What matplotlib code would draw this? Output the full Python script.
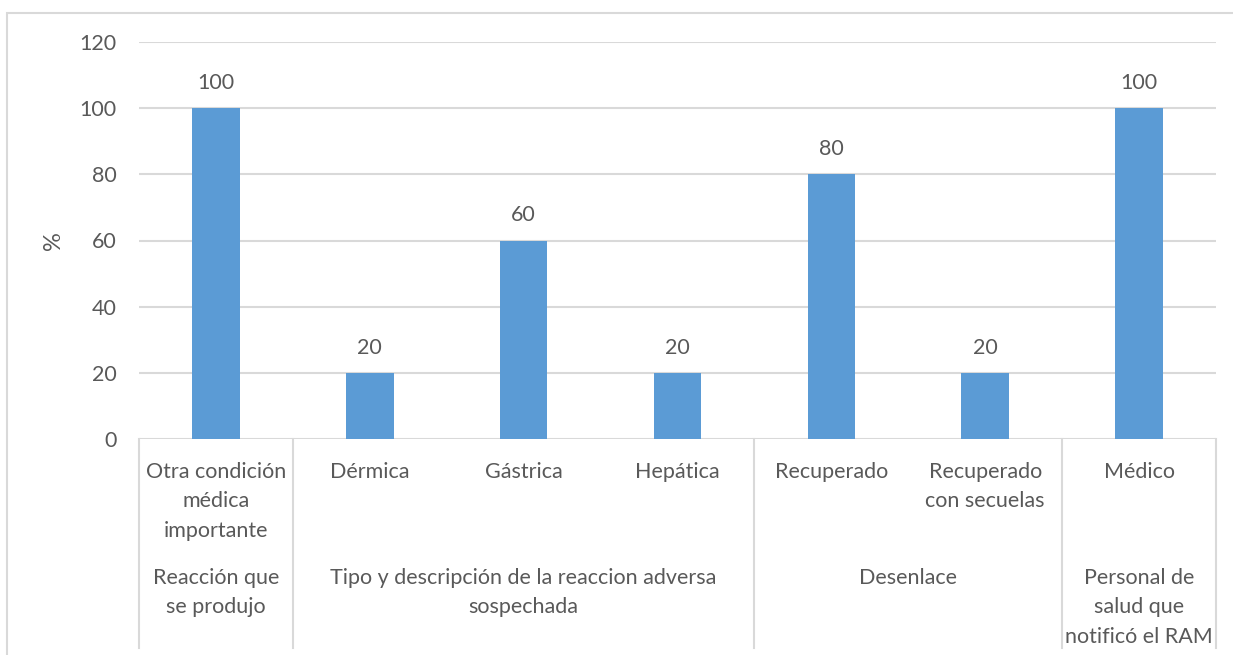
import matplotlib.pyplot as plt
from matplotlib.patches import Rectangle

plt.rcParams['font.family'] = ['Lato', 'DejaVu Sans']

# --- data
categorias = ['Otra condición\nmédica\nimportante', 'Dérmica', 'Gástrica', 'Hepática',
              'Recuperado', 'Recuperado\ncon secuelas', 'Médico']
valores = [100, 20, 60, 20, 80, 20, 100]

grupos = ['Reacción que\nse produjo',
          'Tipo y descripción de la reaccion adversa\nsospechada',
          'Desenlace',
          'Personal de\nsalud que\nnotificó el RAM']
grupo_n = [1, 3, 2, 1]  # how many categories fall in each group

yticks = [0, 20, 40, 60, 80, 100, 120]

gris = '#595959'
linea = '#d9d9d9'
azul = '#5b9bd5'
fs = 15.5

W, H = 1233, 655
fig = plt.figure(figsize=(W / 100, H / 100), dpi=100)

# outer chart frame
fig.patches.append(Rectangle((7 / W, -0.1), 1.2, (H - 13) / H + 0.1, transform=fig.transFigure,
                             fill=False, edgecolor=linea, linewidth=1.5))

x0, x1, y0, y1 = 139, 1216, 439, 42
ax = fig.add_axes((x0 / W, (H - y0) / H, (x1 - x0) / W, (y0 - y1) / H))
ax_h = y0 - y1

x = list(range(len(categorias)))
bars = ax.bar(x, valores, width=0.31, color=azul, zorder=3)
ax.bar_label(bars, labels=[str(v) for v in valores], padding=11, fontsize=fs, color=gris)

ax.set_xlim(-0.5, len(categorias) - 0.5)
ax.set_ylim(0, 120)
ax.set_yticks(yticks)
ax.set_xticks([])
ax.tick_params(axis='y', length=0, pad=16, labelsize=fs, labelcolor=gris)
ax.yaxis.grid(True, color=linea, linewidth=1.5, zorder=0)
for s in ax.spines.values():
    s.set_visible(False)
ax.set_ylabel('%', fontsize=17, color=gris, labelpad=11)

# --- two-level category axis
tr = ax.get_xaxis_transform()
fondo = -(648 - y0) / ax_h

bordes = [-0.5]
for n in grupo_n:
    bordes.append(bordes[-1] + n)
for b in bordes:
    ax.plot([b, b], [0, fondo], transform=tr, color=linea, linewidth=1.5, clip_on=False)

fila1 = -(462 - y0) / ax_h
fila2 = -(568 - y0) / ax_h
for xi, c in zip(x, categorias):
    ax.text(xi, fila1, c, transform=tr, ha='center', va='top', fontsize=fs,
            color=gris, linespacing=1.58)

inicio = 0
for g, n in zip(grupos, grupo_n):
    centro = inicio + (n - 1) / 2
    ax.text(centro, fila2, g, transform=tr, ha='center', va='top', fontsize=fs,
            color=gris, linespacing=1.58)
    inicio += n

fig.savefig('out.png', dpi=100)
